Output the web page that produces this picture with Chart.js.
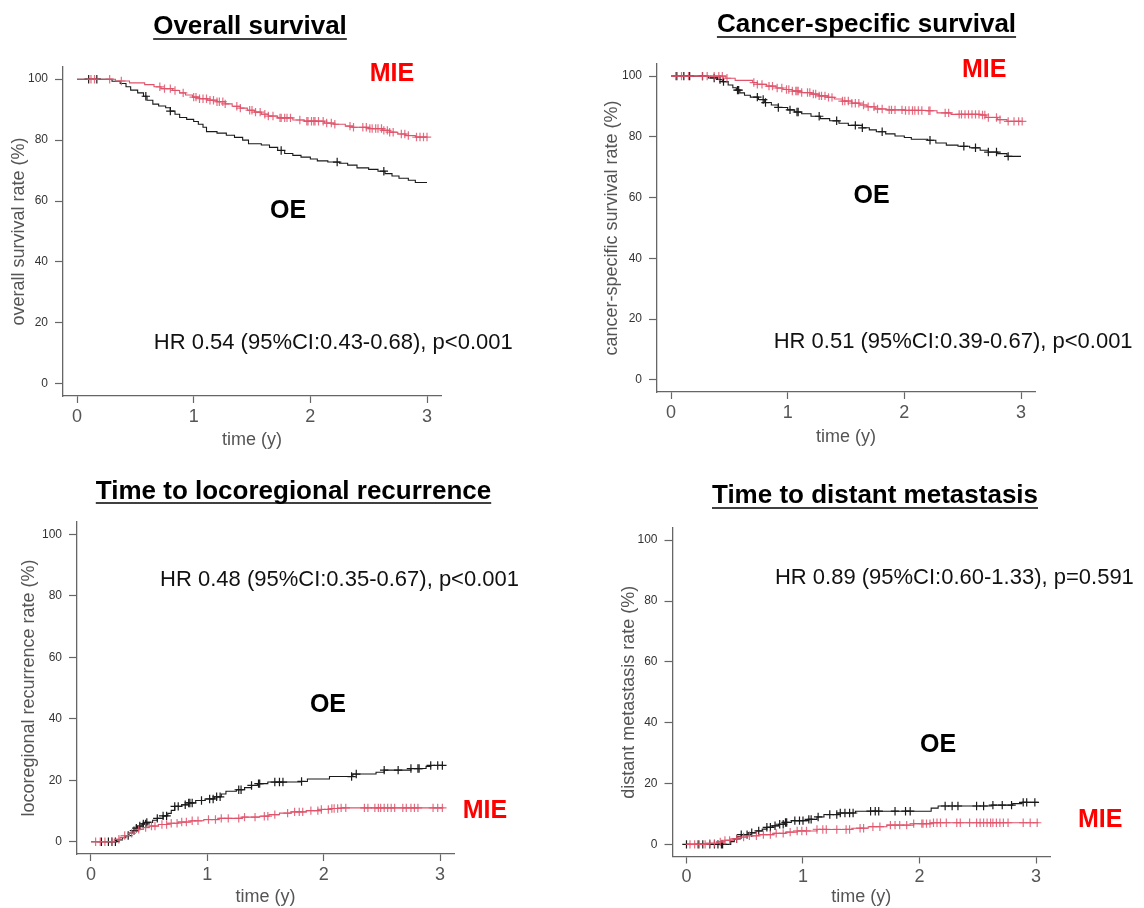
<!DOCTYPE html>
<html><head><meta charset="utf-8">
<script src="https://cdn.jsdelivr.net/npm/chart.js@4/dist/chart.umd.min.js"></script>
<style>
html,body{margin:0;padding:0;background:#fff;}
#wrap{position:relative;width:1144px;height:908px;overflow:hidden;background:#fff;}
canvas{position:absolute;}
</style></head><body><div id="wrap">
<canvas id="c1" width="572" height="454" style="left:0;top:0"></canvas>
<canvas id="c2" width="572" height="454" style="left:572px;top:0"></canvas>
<canvas id="c3" width="572" height="454" style="left:0;top:454px"></canvas>
<canvas id="c4" width="572" height="454" style="left:572px;top:454px"></canvas>
</div>
<script>
// ---------- tick labels / text ----------
const timeTicks = [0, 1, 2, 3];
const rateTicks = [0, 20, 40, 60, 80, 100];
const groupLabels = ['MIE', 'OE'];
const panelTitles = ['Overall survival', 'Cancer-specific survival', 'Time to locoregional recurrence', 'Time to distant metastasis'];
const yTitles = ['overall survival rate (%)', 'cancer-specific survival rate (%)', 'locoregional recurrence rate (%)', 'distant metastasis rate (%)'];
const xTitle = 'time (y)';
const hrTexts = ['HR 0.54 (95%CI:0.43-0.68), p<0.001', 'HR 0.51 (95%CI:0.39-0.67), p<0.001', 'HR 0.48 (95%CI:0.35-0.67), p<0.001', 'HR 0.89 (95%CI:0.60-1.33), p=0.591'];

// ---------- Overall survival ----------
const osMieTime = [0, 0.28, 0.33, 0.45, 0.58, 0.66, 0.72, 0.82, 0.88, 0.93, 0.99, 1.05, 1.12, 1.2, 1.27, 1.33, 1.4, 1.46, 1.52, 1.58, 1.64, 1.72, 1.85, 1.95, 2.12, 2.2, 2.3, 2.36, 2.5, 2.62, 2.68, 2.75, 2.82, 2.9, 3.0];
const osMieRate = [100, 100, 99.4, 98.8, 98.2, 97.5, 96.9, 96.3, 95.5, 94.8, 94.1, 93.6, 93.1, 92.6, 91.9, 91.1, 90.5, 89.8, 89.2, 88.5, 87.9, 87.3, 86.6, 86.2, 85.6, 85.2, 84.6, 84.2, 83.8, 83.2, 82.6, 82.0, 81.5, 81.0, 81.0];
const osOeTime = [0, 0.25, 0.3, 0.37, 0.42, 0.46, 0.52, 0.57, 0.6, 0.65, 0.7, 0.76, 0.8, 0.84, 0.88, 0.94, 1.0, 1.04, 1.08, 1.11, 1.2, 1.28, 1.35, 1.42, 1.47, 1.58, 1.65, 1.72, 1.78, 1.85, 1.92, 2.0, 2.06, 2.15, 2.25, 2.32, 2.4, 2.5, 2.58, 2.64, 2.7, 2.76, 2.84, 2.9, 3.0];
const osOeRate = [100, 100, 99.3, 98.6, 97.5, 96.4, 95.5, 94.4, 93.1, 91.8, 91.2, 90.6, 89.5, 88.5, 87.4, 86.8, 86.1, 85.2, 84.2, 82.8, 82.3, 81.6, 80.9, 80.0, 78.8, 78.4, 77.6, 76.6, 75.6, 75.0, 74.4, 73.8, 73.2, 72.8, 72.4, 71.8, 70.9, 70.4, 69.8, 69.0, 68.2, 67.5, 66.8, 66.1, 66.1];
const osMieCensor = [0.12, 0.15, 0.28, 0.38, 0.71, 0.75, 0.8, 0.84, 0.91, 1.0, 1.02, 1.05, 1.08, 1.11, 1.14, 1.17, 1.2, 1.22, 1.25, 1.27, 1.37, 1.4, 1.48, 1.5, 1.53, 1.57, 1.61, 1.64, 1.68, 1.74, 1.75, 1.78, 1.8, 1.83, 1.91, 1.97, 1.98, 2.01, 2.03, 2.04, 2.07, 2.11, 2.14, 2.18, 2.21, 2.34, 2.37, 2.45, 2.48, 2.51, 2.53, 2.56, 2.58, 2.61, 2.63, 2.66, 2.68, 2.71, 2.78, 2.81, 2.84, 2.91, 2.94, 2.97, 3.0];
const osOeCensor = [0.1, 0.17, 0.59, 0.8, 1.75, 2.23, 2.63];

// ---------- Cancer-specific survival ----------
const cssMieTime = [0, 0.44, 0.47, 0.55, 0.7, 0.74, 0.82, 0.9, 0.96, 1.04, 1.12, 1.2, 1.27, 1.34, 1.4, 1.47, 1.55, 1.62, 1.68, 1.75, 1.85, 2.0, 2.2, 2.28, 2.4, 2.65, 2.7, 2.8, 2.88, 3.0];
const cssMieRate = [100, 100, 99.3, 98.6, 97.9, 97.3, 96.7, 96.1, 95.6, 95.1, 94.6, 94.1, 93.5, 93.0, 92.5, 91.8, 91.1, 90.5, 89.9, 89.2, 88.9, 88.7, 88.6, 87.9, 87.4, 87.2, 86.4, 85.7, 85.1, 85.1];
const cssOeTime = [0, 0.29, 0.32, 0.4, 0.44, 0.49, 0.53, 0.56, 0.59, 0.63, 0.68, 0.75, 0.8, 0.86, 0.92, 1.0, 1.06, 1.12, 1.2, 1.28, 1.36, 1.44, 1.52, 1.64, 1.7, 1.76, 1.84, 1.92, 2.0, 2.06, 2.2, 2.27, 2.36, 2.46, 2.56, 2.65, 2.72, 2.8, 2.88, 3.0];
const cssOeRate = [100, 100, 99.4, 98.9, 98.2, 97.1, 96.2, 95.4, 94.5, 93.7, 93.1, 92.3, 91.3, 90.5, 89.7, 88.9, 88.2, 87.6, 86.8, 86.0, 85.3, 84.5, 83.8, 83.0, 82.3, 81.7, 81.0, 80.3, 79.8, 79.2, 78.9, 78.0, 77.3, 76.9, 76.4, 75.6, 75.0, 74.5, 73.6, 73.6];
const cssMieCensor = [0.04, 0.09, 0.15, 0.27, 0.31, 0.37, 0.41, 0.44, 0.48, 0.71, 0.74, 0.78, 0.84, 0.87, 0.91, 0.95, 0.99, 1.01, 1.04, 1.07, 1.08, 1.09, 1.12, 1.17, 1.19, 1.22, 1.24, 1.27, 1.29, 1.32, 1.35, 1.38, 1.47, 1.49, 1.52, 1.55, 1.58, 1.61, 1.65, 1.69, 1.74, 1.77, 1.81, 1.87, 1.89, 1.92, 1.98, 2.01, 2.04, 2.07, 2.09, 2.12, 2.15, 2.21, 2.22, 2.35, 2.38, 2.47, 2.49, 2.52, 2.55, 2.58, 2.61, 2.64, 2.67, 2.69, 2.72, 2.79, 2.82, 2.89, 2.94, 2.98, 3.01];
const cssOeCensor = [0.05, 0.11, 0.16, 0.27, 0.37, 0.42, 0.45, 0.57, 0.58, 0.74, 0.79, 0.81, 0.92, 1.02, 1.08, 1.09, 1.27, 1.42, 1.58, 1.64, 1.81, 2.22, 2.51, 2.61, 2.72, 2.79, 2.89];

// ---------- Locoregional recurrence ----------
const lrrMieTime = [0, 0.15, 0.2, 0.25, 0.29, 0.33, 0.37, 0.41, 0.45, 0.5, 0.58, 0.66, 0.75, 0.86, 0.97, 1.1, 1.3, 1.45, 1.53, 1.62, 1.72, 1.85, 1.98, 2.06, 2.15, 3.03];
const lrrMieRate = [0, 0, 0.8, 1.4, 2.0, 2.7, 3.4, 4.0, 4.6, 5.1, 5.6, 6.0, 6.4, 6.8, 7.2, 7.6, 8.0, 8.3, 8.8, 9.3, 9.7, 10.1, 10.5, 10.8, 11.0, 11.0];
const lrrOeTime = [0, 0.18, 0.22, 0.27, 0.3, 0.33, 0.36, 0.38, 0.4, 0.44, 0.48, 0.53, 0.57, 0.62, 0.66, 0.69, 0.72, 0.78, 0.84, 0.9, 0.98, 1.06, 1.12, 1.16, 1.25, 1.32, 1.38, 1.43, 1.52, 1.8, 1.86, 2.05, 2.25, 2.45, 2.52, 2.75, 2.88, 2.92, 3.03];
const lrrOeRate = [0, 0, 0.6, 1.3, 2.0, 2.8, 3.6, 4.4, 5.1, 5.8, 6.3, 7.0, 7.6, 8.4, 9.2, 10.2, 11.5, 12.0, 12.6, 13.4, 13.9, 14.6, 15.5, 16.4, 16.9, 17.6, 18.3, 18.9, 19.4, 19.6, 20.4, 21.2, 22.0, 22.6, 23.3, 23.8, 24.5, 24.8, 24.8];
const lrrMieCensor = [0.04, 0.08, 0.12, 0.18, 0.24, 0.29, 0.35, 0.41, 0.47, 0.52, 0.55, 0.61, 0.65, 0.69, 0.74, 0.78, 0.82, 0.87, 0.92, 1.01, 1.07, 1.12, 1.18, 1.27, 1.32, 1.41, 1.49, 1.52, 1.58, 1.69, 1.75, 1.79, 1.82, 1.89, 1.95, 1.98, 2.04, 2.07, 2.09, 2.12, 2.15, 2.19, 2.35, 2.38, 2.44, 2.47, 2.49, 2.52, 2.55, 2.58, 2.61, 2.68, 2.71, 2.75, 2.78, 2.81, 2.94, 2.98, 3.02];
const lrrOeCensor = [0.09, 0.15, 0.18, 0.21, 0.32, 0.37, 0.39, 0.42, 0.45, 0.47, 0.48, 0.57, 0.62, 0.65, 0.72, 0.75, 0.81, 0.84, 0.85, 0.87, 0.95, 1.02, 1.05, 1.08, 1.11, 1.27, 1.29, 1.38, 1.44, 1.45, 1.58, 1.62, 1.65, 1.81, 2.24, 2.28, 2.52, 2.64, 2.75, 2.81, 2.82, 2.92, 2.98, 3.02];

// ---------- Distant metastasis ----------
const dmMieTime = [0, 0.1, 0.17, 0.26, 0.33, 0.38, 0.44, 0.52, 0.62, 0.75, 0.85, 0.95, 1.12, 1.42, 1.56, 1.72, 1.95, 2.1, 3.02];
const dmMieRate = [0, 0, 0.3, 0.8, 1.3, 1.8, 2.4, 2.8, 3.2, 3.6, 4.0, 4.4, 4.9, 5.3, 5.8, 6.3, 6.8, 7.1, 7.1];
const dmOeTime = [0, 0.33, 0.38, 0.41, 0.44, 0.47, 0.53, 0.6, 0.65, 0.69, 0.74, 0.79, 0.84, 0.9, 1.05, 1.12, 1.18, 1.3, 1.45, 2.04, 2.1, 2.16, 2.62, 2.8, 2.88, 3.02];
const dmOeRate = [0, 0, 0.9, 1.8, 2.6, 3.2, 3.8, 4.4, 5.0, 5.6, 6.1, 6.6, 7.2, 7.8, 8.2, 9.0, 9.8, 10.3, 10.9, 10.9, 11.9, 12.6, 12.9, 13.4, 13.8, 13.8];
const dmMieCensor = [0.03, 0.07, 0.11, 0.16, 0.2, 0.24, 0.29, 0.33, 0.37, 0.43, 0.49, 0.54, 0.6, 0.66, 0.72, 0.77, 0.83, 0.89, 0.95, 0.99, 1.03, 1.12, 1.17, 1.2, 1.29, 1.37, 1.4, 1.49, 1.52, 1.6, 1.66, 1.75, 1.79, 1.83, 1.89, 1.95, 2.02, 2.03, 2.06, 2.09, 2.12, 2.15, 2.18, 2.23, 2.32, 2.35, 2.43, 2.49, 2.52, 2.55, 2.58, 2.61, 2.63, 2.66, 2.69, 2.72, 2.76, 2.89, 2.95, 3.01];
const dmOeCensor = [0, 0.1, 0.14, 0.2, 0.24, 0.27, 0.3, 0.31, 0.43, 0.47, 0.52, 0.56, 0.62, 0.69, 0.72, 0.76, 0.8, 0.83, 0.85, 0.86, 0.93, 0.97, 1.0, 1.05, 1.07, 1.13, 1.23, 1.29, 1.32, 1.36, 1.4, 1.43, 1.58, 1.62, 1.65, 1.79, 1.88, 1.92, 2.22, 2.28, 2.33, 2.49, 2.55, 2.63, 2.71, 2.79, 2.89, 2.92, 2.99];

// ---------- helpers ----------
const FONT = '"Liberation Sans", Arial, Helvetica, sans-serif';
Chart.defaults.font.family = FONT;
const MIE_LINE = '#DF536B';
const MIE_MARK = 'rgba(223,83,107,0.85)';
const OE_LINE = '#1a1a1a';

function stepAt(times, rates, t) {
  let v = rates[0];
  for (let i = 0; i < times.length; i++) { if (times[i] <= t) v = rates[i]; else break; }
  return v;
}
function curve(times, rates) { return times.map((t, i) => ({x: t, y: rates[i]})); }
function marks(cens, times, rates) { return cens.map(t => ({x: t, y: stepAt(times, rates, t)})); }

const textPlugin = {
  id: 'panelText',
  afterDraw(chart, args, o) {
    const ctx = chart.ctx, xs = chart.scales.x, ys = chart.scales.y;
    ctx.save();
    ctx.font = 'bold 26px ' + FONT;
    ctx.fillStyle = '#000';
    ctx.textAlign = 'center';
    ctx.textBaseline = 'middle';
    ctx.fillText(o.title, o.tx, o.ty);
    const w = ctx.measureText(o.title).width;
    ctx.strokeStyle = '#000';
    ctx.lineWidth = 1.6;
    ctx.beginPath(); ctx.moveTo(o.tx - w / 2, o.tu); ctx.lineTo(o.tx + w / 2, o.tu); ctx.stroke();
    ctx.font = 'bold 25px ' + FONT;
    ctx.fillStyle = '#FF0000';
    ctx.fillText(groupLabels[0], xs.getPixelForValue(o.mie[0]), ys.getPixelForValue(o.mie[1]));
    ctx.fillStyle = '#000';
    ctx.fillText(groupLabels[1], xs.getPixelForValue(o.oe[0]), ys.getPixelForValue(o.oe[1]));
    ctx.font = '22px ' + FONT;
    ctx.textAlign = 'left';
    ctx.fillStyle = '#111';
    ctx.fillText(o.hr, xs.getPixelForValue(o.hrPos[0]), ys.getPixelForValue(o.hrPos[1]));
    ctx.restore();
  }
};

function makePanel(id, p, d) {
  return new Chart(document.getElementById(id), {
    type: 'scatter',
    data: {
      datasets: [
        {data: curve(d.mt, d.mr), showLine: true, stepped: 'before', borderColor: MIE_LINE, borderWidth: 1.1, pointRadius: 0, fill: false},
        {data: marks(d.mc, d.mt, d.mr), showLine: false, pointStyle: 'cross', pointRadius: 4.2, borderColor: MIE_MARK, backgroundColor: MIE_MARK, pointBorderWidth: 1.2},
        {data: curve(d.ot, d.or), showLine: true, stepped: 'before', borderColor: OE_LINE, borderWidth: 1.1, pointRadius: 0, fill: false},
        {data: marks(d.oc, d.ot, d.or), showLine: false, pointStyle: 'cross', pointRadius: 4.2, borderColor: OE_LINE, backgroundColor: OE_LINE, pointBorderWidth: 1.2}
      ]
    },
    options: {
      responsive: false, animation: false, devicePixelRatio: 1,
      layout: {padding: {top: p.padTop, right: p.padRight, left: 0, bottom: 0}},
      plugins: {
        legend: {display: false}, tooltip: {enabled: false},
        panelText: {title: p.title, tx: p.tx, ty: p.ty, tu: p.tu, mie: p.mie, oe: p.oe, hr: p.hr, hrPos: p.hrPos}
      },
      scales: {
        x: {
          type: 'linear', min: -0.12, max: 3.12,
          afterBuildTicks: s => { s.ticks = timeTicks.map(v => ({value: v})); },
          afterFit: s => { s.height = p.xH; },
          ticks: {autoSkip: false, maxRotation: 0, font: {size: 18}, color: '#555', padding: 3, callback: v => String(v)},
          grid: {drawOnChartArea: false, drawTicks: true, tickLength: 7, tickColor: '#666', tickWidth: 1.2},
          border: {display: true, color: '#666', width: 1.3},
          title: {display: true, text: xTitle, font: {size: 18}, color: '#555', padding: {top: 0, bottom: p.xTP}}
        },
        y: {
          type: 'linear', min: -4, max: 104,
          afterBuildTicks: s => { s.ticks = rateTicks.map(v => ({value: v})); },
          afterFit: s => { s.width = p.yW; },
          ticks: {autoSkip: false, font: {size: 12}, color: '#333', padding: 7, callback: v => String(v)},
          grid: {drawOnChartArea: false, drawTicks: true, tickLength: 8, tickColor: '#666', tickWidth: 1.2},
          border: {display: true, color: '#666', width: 1.3},
          title: {display: true, text: p.yTitle, font: {size: 18}, color: '#555', padding: {top: p.yTP, bottom: 0}}
        }
      }
    },
    plugins: [textPlugin]
  });
}

makePanel('c1',
  {padTop: 67, padRight: 131, yW: 63, xH: 58, yTP: 8, xTP: 3, title: panelTitles[0], tx: 250, ty: 27, tu: 39, mie: [2.70, 101.6], oe: [1.81, 56.7], hr: hrTexts[0], hrPos: [0.658, 13.5], yTitle: yTitles[0]},
  {mt: osMieTime, mr: osMieRate, mc: osMieCensor, ot: osOeTime, or: osOeRate, oc: osOeCensor});
makePanel('c2',
  {padTop: 64, padRight: 109, yW: 85, xH: 62, yTP: 29, xTP: 6, title: panelTitles[1], tx: 294.5, ty: 25, tu: 37, mie: [2.685, 102.1], oe: [1.72, 60.4], hr: hrTexts[1], hrPos: [0.88, 12.6], yTitle: yTitles[1]},
  {mt: cssMieTime, mr: cssMieRate, mc: cssMieCensor, ot: cssOeTime, or: cssOeRate, oc: cssOeCensor});
makePanel('c3',
  {padTop: 68, padRight: 118, yW: 77, xH: 54, yTP: 18, xTP: 0.5, title: panelTitles[2], tx: 293.5, ty: 38, tu: 49, mie: [3.386, 10.1], oe: [2.037, 44.3], hr: hrTexts[2], hrPos: [0.594, 85.1], yTitle: yTitles[2]},
  {mt: lrrMieTime, mr: lrrMieRate, mc: lrrMieCensor, ot: lrrOeTime, or: lrrOeRate, oc: lrrOeCensor});
makePanel('c4',
  {padTop: 74, padRight: 94, yW: 100.5, xH: 51.5, yTP: 46, xTP: 0, title: panelTitles[3], tx: 303, ty: 42, tu: 54, mie: [3.55, 8.0], oe: [2.159, 32.7], hr: hrTexts[3], hrPos: [0.759, 87.6], yTitle: yTitles[3]},
  {mt: dmMieTime, mr: dmMieRate, mc: dmMieCensor, ot: dmOeTime, or: dmOeRate, oc: dmOeCensor});
</script>
</body></html>
